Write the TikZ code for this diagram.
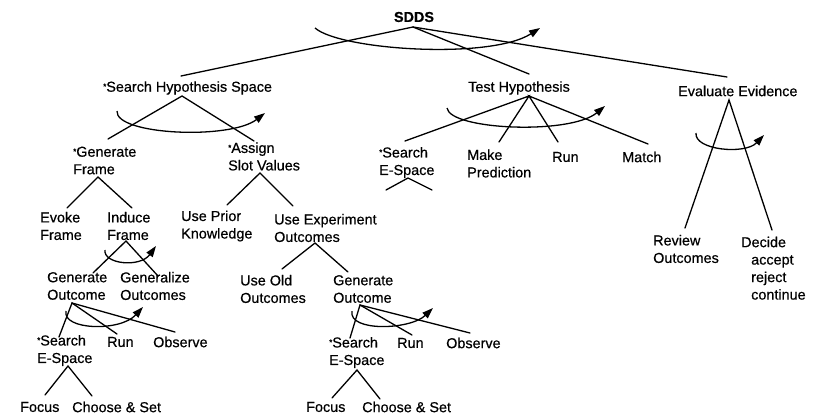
\documentclass[tikz,border=0pt]{standalone}
\usepackage{fontspec}
\setmainfont{Liberation Sans}[FakeBold=0.5]
\usetikzlibrary{arrows.meta}
\tikzset{
  lbl/.style={inner sep=0pt, anchor=west, align=left, font=\fontsize{14.4}{17.5}\selectfont},
  edge/.style={line width=1.3pt, line cap=round},
  turn/.style={line width=1.3pt, -{Triangle[length=11pt,width=7.5pt]}}
}
\newcommand{\smallstar}{\raisebox{2.5pt}{\fontsize{8}{8}\selectfont *}}
\begin{document}
\begin{tikzpicture}[x=1pt,y=-1pt]
\fill[white] (0,0) rectangle (814,415);
\useasboundingbox (0,0) rectangle (814,415);
% labels
\node[lbl, anchor=center, font=\fontsize{14.4}{17.5}\selectfont\bfseries] (sdds) at (414,17) {SDDS};
\node[lbl] (shs) at (103,88) {\smallstar Search Hypothesis Space};
\node[lbl] (th) at (468,88) {Test Hypothesis};
\node[lbl] (ee) at (678,91) {Evaluate Evidence};
\node[lbl] (gf) at (73,160.5) {\smallstar Generate\\Frame};
\node[lbl] (asv) at (228,156.5) {\smallstar Assign\\Slot Values};
\node[lbl] (ses1) at (379,162.5) {\smallstar Search\\E-Space};
\node[lbl] (mp) at (467,163.5) {Make\\Prediction};
\node[lbl] (run1) at (552,157) {Run};
\node[lbl] (match) at (622,157) {Match};
\node[lbl] (ef) at (40,226) {Evoke\\Frame};
\node[lbl] (inf) at (107,226) {Induce\\Frame};
\node[lbl] (upk) at (181,226) {Use Prior\\Knowledge};
\node[lbl] (ueo) at (274,228) {Use Experiment\\Outcomes};
\node[lbl] (ro) at (653,249) {Review\\Outcomes};
\node[lbl] (dec) at (741,242) {Decide};
\node[lbl] (dopt) at (751,277.5) {accept\\reject\\continue};
\node[lbl] (go1) at (47,286) {Generate\\Outcome};
\node[lbl] (gos) at (120,286) {Generalize\\Outcomes};
\node[lbl] (uoo) at (240,289) {Use Old\\Outcomes};
\node[lbl] (go2) at (333,289) {Generate\\Outcome};
\node[lbl] (ses2) at (37,350.5) {\smallstar Search\\E-Space};
\node[lbl] (run2) at (107,342) {Run};
\node[lbl] (obs2) at (153,342) {Observe};
\node[lbl] (ses3) at (329,352.5) {\smallstar Search\\E-Space};
\node[lbl] (run3) at (397,343) {Run};
\node[lbl] (obs3) at (446,343) {Observe};
\node[lbl] (foc1) at (20,407) {Focus};
\node[lbl] (cs1) at (72,407) {Choose \& Set};
\node[lbl] (foc2) at (306,407) {Focus};
\node[lbl] (cs2) at (362,407) {Choose \& Set};
% apex and end coordinates
\coordinate (sddsA) at (413,27);
\coordinate (shsT) at (181,76); \coordinate (thT) at (529,74); \coordinate (eeT) at (727,77);
\coordinate (shsA) at (182,96);
\coordinate (gfT) at (108,139); \coordinate (asvT) at (254,141);
\coordinate (thA) at (529,96);
\coordinate (ses1T) at (405,141); \coordinate (mpT) at (499,142); \coordinate (run1T) at (558,142); \coordinate (matchT) at (648,144);
\coordinate (eeA) at (729,100);
\coordinate (roT) at (685,228); \coordinate (decT) at (772,230);
\coordinate (gfA) at (98,177);
\coordinate (efT) at (67,208); \coordinate (infT) at (132,208);
\coordinate (asvA) at (260,173);
\coordinate (upkT) at (227,205); \coordinate (ueoT) at (293,206);
\coordinate (ses1A) at (408,178);
\coordinate (ses1L) at (386,190); \coordinate (ses1R) at (432,190);
\coordinate (infA) at (126,241);
\coordinate (go1T) at (93,273); \coordinate (gosT) at (158,276);
\coordinate (ueoA) at (315,243);
\coordinate (uooT) at (282,269); \coordinate (go2T) at (348,272);
\coordinate (go1A) at (72,303);
\coordinate (ses2T) at (59,337); \coordinate (run2T) at (117,334); \coordinate (obs2T) at (175,332);
\coordinate (go2A) at (360,305);
\coordinate (ses3T) at (350,338); \coordinate (run3T) at (412,335); \coordinate (obs3T) at (470,333);
\coordinate (ses2A) at (68,366);
\coordinate (foc1T) at (45,395); \coordinate (cs1T) at (92,396);
\coordinate (ses3A) at (357,370);
\coordinate (foc2T) at (332,398); \coordinate (cs2T) at (380,399);
% edges
\draw[edge] (shsT) -- (sddsA) -- (thT);
\draw[edge] (sddsA) -- (eeT);
\draw[edge] (gfT) -- (shsA) -- (asvT);
\draw[edge] (ses1T) -- (thA) -- (mpT);
\draw[edge] (run1T) -- (thA) -- (matchT);
\draw[edge] (roT) -- (eeA) -- (decT);
\draw[edge] (efT) -- (gfA) -- (infT);
\draw[edge] (upkT) -- (asvA) -- (ueoT);
\draw[edge] (ses1L) -- (ses1A) -- (ses1R);
\draw[edge] (go1T) -- (infA) -- (gosT);
\draw[edge] (uooT) -- (ueoA) -- (go2T);
\draw[edge] (ses2T) -- (go1A) -- (run2T);
\draw[edge] (go1A) -- (obs2T);
\draw[edge] (ses3T) -- (go2A) -- (run3T);
\draw[edge] (go2A) -- (obs3T);
\draw[edge] (foc1T) -- (ses2A) -- (cs1T);
\draw[edge] (foc2T) -- (ses3A) -- (cs2T);
% sequencing arcs
\draw[turn] (315,28) .. controls (340,50) and (490,60) .. (540,28);
\draw[turn] (117,111) .. controls (115,135) and (230,140) .. (265,113);
\draw[turn] (447,108) .. controls (450,130) and (570,135) .. (605,106);
\draw[turn] (696,133) .. controls (694,150) and (745,155) .. (764,135);
\draw[turn] (105,250) .. controls (103,264) and (140,268) .. (156,246);
\draw[turn] (66,311) .. controls (62,330) and (120,332) .. (143,307);
\draw[turn] (352,311) .. controls (348,332) and (410,330) .. (433,308);
\end{tikzpicture}
\end{document}
